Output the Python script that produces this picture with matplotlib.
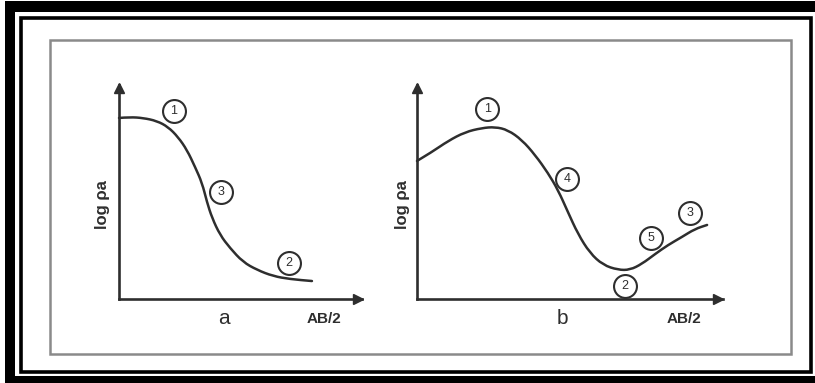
import numpy as np
import matplotlib.pyplot as plt
from matplotlib.patches import Rectangle, PathPatch
from matplotlib.path import Path

plt.rcParams['font.family'] = ['Liberation Sans', 'DejaVu Sans']

# Curve a (two-layer type, arbitrary units: AB/2 -> x, log rho_a -> y)
a_x = [0.0, 0.45, 0.99, 1.56, 2.02, 2.43, 2.80, 3.13, 3.42, 3.62, 3.83,
       4.16, 4.57, 5.10, 5.68, 6.34, 7.04, 7.94]
a_y = [8.46, 8.50, 8.46, 8.32, 8.04, 7.57, 6.96, 6.17, 5.42, 4.53, 3.79,
       2.99, 2.38, 1.73, 1.36, 1.07, 0.93, 0.84]

# Curve b (multi-layer type)
b_x = [0.0, 0.49, 1.01, 1.57, 2.12, 2.55, 2.97, 3.43, 3.86, 4.28, 4.61,
       4.93, 5.26, 5.65, 6.08, 6.57, 6.96, 7.35, 7.78, 8.20, 8.66, 9.08, 9.48]
b_y = [6.45, 6.87, 7.38, 7.80, 7.99, 8.04, 7.90, 7.43, 6.73, 5.89, 5.09,
       4.07, 3.04, 2.15, 1.59, 1.36, 1.36, 1.64, 2.10, 2.52, 2.90, 3.27, 3.46]

# numbered circles
a_lab = ['1', '3', '2']
a_lab_x = [2.26, 4.20, 7.00]
a_lab_y = [8.79, 5.00, 1.68]
b_lab = ['1', '4', '2', '5', '3']
b_lab_x = [2.29, 4.90, 6.80, 7.65, 8.92]
b_lab_y = [8.88, 5.61, 0.61, 2.85, 4.02]

W, H = 815, 383
ink = '#2e2e2e'

fig = plt.figure(figsize=(W / 100, H / 100), dpi=100)
fig.patch.set_facecolor('white')


def fr(x0, y0, x1, y1):
    # pixel box (top-left origin) -> figure fraction [l, b, w, h]
    return [x0 / W, 1 - y1 / H, (x1 - x0) / W, (y1 - y0) / H]


# frames
for box in [(5, 1, 815, 12), (5, 1, 15, 383), (5, 376, 815, 383)]:
    l, b, w, h = fr(*box)
    fig.patches.append(Rectangle((l, b), w, h, transform=fig.transFigure,
                                 facecolor='black', edgecolor='none'))
l, b, w, h = fr(21, 18, 810.5, 372)
fig.patches.append(Rectangle((l, b), w, h, transform=fig.transFigure,
                             facecolor='none', edgecolor='black', lw=2.6))
l, b, w, h = fr(50, 40, 791, 353.5)
fig.patches.append(Rectangle((l, b), w, h, transform=fig.transFigure,
                             facecolor='none', edgecolor='#8a8a8a', lw=1.8))


def smooth_path(xs, ys):
    # quadratic bezier through midpoints, read points act as control points
    p = np.column_stack([xs, ys])
    verts = [p[0]]
    codes = [Path.MOVETO]
    for i in range(1, len(p) - 1):
        verts += [p[i], (p[i] + p[i + 1]) / 2]
        codes += [Path.CURVE3, Path.CURVE3]
    verts.append(p[-1])
    codes.append(Path.LINETO)
    return Path(verts, codes)


def panel(rect, xs, ys, labs, lx, ly, letter, letter_x, log_x, ab_x):
    ax = fig.add_axes(fr(*rect))
    ax.set_xlim(0, 10)
    ax.set_ylim(0, 10)
    ax.patch.set_alpha(0)
    for s in ['top', 'right']:
        ax.spines[s].set_visible(False)
    for s in ['left', 'bottom']:
        ax.spines[s].set_color(ink)
        ax.spines[s].set_linewidth(1.9)
    ax.set_xticks([])
    ax.set_yticks([])
    ax.plot(0.985, 0, '>', color=ink, ms=7, transform=ax.transAxes, clip_on=False)
    ax.plot(0, 0.985, '^', color=ink, ms=7, transform=ax.transAxes, clip_on=False)

    ax.add_patch(PathPatch(smooth_path(xs, ys), fill=False, edgecolor=ink,
                           lw=1.8, capstyle='round', clip_on=False))
    ax.plot(lx, ly, 'o', ms=16.5, mfc='white', mec=ink, mew=1.5,
            clip_on=False, zorder=4)
    for t, x, y in zip(labs, lx, ly):
        ax.text(x, y, t, ha='center', va='center', fontsize=9,
                color=ink, zorder=5)

    ax.text(log_x, 4.39, 'log ρa', rotation=90, ha='center', va='center',
            fontsize=12, fontweight='bold', color=ink)
    ax.text(letter_x, -0.93, letter, ha='center', va='center',
            fontsize=15, color=ink)
    ax.text(ab_x, -0.93, 'AB/2', ha='center', va='center',
            fontsize=11, fontweight='bold', color=ink)
    return ax


panel((119, 85, 362, 299), a_x, a_y, a_lab, a_lab_x, a_lab_y,
      'a', 4.32, -0.66, 8.44)
panel((417, 85, 723, 299), b_x, b_y, b_lab, b_lab_x, b_lab_y,
      'b', 4.74, -0.46, 8.73)

fig.savefig('out.png', dpi=100, facecolor='white')
